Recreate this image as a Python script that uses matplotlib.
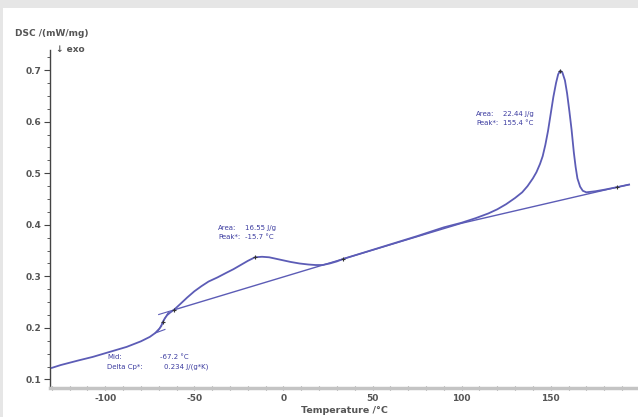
import matplotlib.pyplot as plt
from matplotlib.patches import Rectangle
from matplotlib.ticker import MultipleLocator

plt.rcParams['axes.unicode_minus'] = False

# DSC curve (temperature in degC, DSC in mW/mg)
temp = [-130, -125, -115, -107, -98, -88, -80, -75, -72, -69.5, -68.5, -67.7, -66.5, -65.2, -63.5, -61.5,
        -58, -54, -50, -46, -42, -37, -32, -28, -24, -20, -16, -12, -8, -4, 0, 4, 9,
        14, 18, 22, 26, 30, 33.7, 45, 60, 75, 90, 100, 108, 115, 120, 125, 130, 134, 137,
        140, 142, 144, 145.5, 147, 148.5, 150, 151.5, 153, 154.2, 155.4, 156.6, 158, 159.2,
        160.5, 161.7, 163, 164, 165, 166.5, 168, 170, 175, 180, 187.3, 194]
dsc = [0.1225, 0.128, 0.137, 0.1438, 0.153, 0.1632, 0.174, 0.1826, 0.190, 0.199, 0.204, 0.2116, 0.219, 0.225, 0.230, 0.2349,
       0.246, 0.259, 0.271, 0.281, 0.290, 0.298, 0.307, 0.314, 0.322, 0.330, 0.337, 0.338, 0.337, 0.334, 0.331, 0.328, 0.325,
       0.323, 0.322, 0.322, 0.325, 0.329, 0.334, 0.346, 0.362, 0.378, 0.395, 0.404, 0.413, 0.422, 0.430, 0.440, 0.452, 0.463, 0.475,
       0.490, 0.502, 0.518, 0.533, 0.555, 0.582, 0.615, 0.648, 0.675, 0.692, 0.699, 0.695, 0.680, 0.655,
       0.620, 0.585, 0.540, 0.512, 0.490, 0.474, 0.466, 0.463, 0.465, 0.468, 0.473, 0.478]

# baseline construction points
base_t = [-61.5, 33.7, 100, 187.3, 194]
base_y = [0.2349, 0.334, 0.403, 0.473, 0.478]

# glass transition tangents
gt_t = [-70.5, -64.5]
gt_y = [0.193, 0.231]
low_t = [-72, -66.5]
low_y = [0.190, 0.197]
up_t = [-70, -61.5]
up_y = [0.226, 0.2349]

# marker crosses
mark_t = [-67.7, -61.5, -15.7, 33.7, 155.4, 187.3]
mark_y = [0.2116, 0.2349, 0.338, 0.334, 0.699, 0.473]

line_c = '#5c5cb6'
text_c = '#3c3ca0'
tick_c = '#555555'

fig = plt.figure(figsize=(6.38, 4.17), dpi=100, facecolor='#e6e6e6')
fig.patches.append(Rectangle((3 / 638, 0), 1, (417 - 8) / 417, transform=fig.transFigure,
                             facecolor='white', edgecolor='none', zorder=-10))
ax = fig.add_axes([50 / 638, 29 / 417, 1 - 50 / 638, (388 - 50) / 417])
ax.set_facecolor('white')

ax.plot(temp, dsc, color=line_c, lw=1.3, zorder=3)
ax.plot(base_t, base_y, color=line_c, lw=1.0, zorder=2)
ax.plot(gt_t, gt_y, color=line_c, lw=0.8)
ax.plot(low_t, low_y, color=line_c, lw=0.8)
ax.plot(up_t, up_y, color=line_c, lw=0.8)
ax.plot(mark_t, mark_y, '+', color='#333333', ms=3.5, mew=0.8, zorder=4)

ax.set_xlim(-131, 199)
ax.set_ylim(0.0835, 0.739)

for s in ['top', 'right']:
    ax.spines[s].set_visible(False)
ax.spines['left'].set_color('#444444')
ax.spines['left'].set_linewidth(1.0)
ax.spines['bottom'].set_color('#c4c4c4')
ax.spines['bottom'].set_linewidth(2.5)

ax.xaxis.set_major_locator(MultipleLocator(50))
ax.xaxis.set_minor_locator(MultipleLocator(10))
ax.yaxis.set_major_locator(MultipleLocator(0.1))
ax.yaxis.set_minor_locator(MultipleLocator(0.025))
ax.tick_params(axis='x', which='both', direction='inout', length=3, width=0.8, color='#888888',
               labelsize=6.5, labelcolor=tick_c, pad=3)
ax.tick_params(axis='y', which='major', direction='out', length=4, width=0.8, color='#444444',
               labelsize=6.5, labelcolor=tick_c, pad=2)
ax.tick_params(axis='y', which='minor', direction='out', length=2, width=0.6, color='#444444')
for lab in ax.get_xticklabels() + ax.get_yticklabels():
    lab.set_fontweight('bold')

ax.set_xlabel('Temperature /°C', fontsize=6.8, color=tick_c, fontweight='bold', labelpad=2)

fig.text(15 / 638, 1 - 33 / 417, 'DSC /(mW/mg)', fontsize=6.5, color=tick_c, fontweight='bold',
         va='center', ha='left')
fig.text(56 / 638, 1 - 50 / 417, '↓ exo', fontsize=6.5, color=tick_c, fontweight='bold',
         va='center', ha='left')

fs = 5
def note(px, py, label, value):
    fig.text(px / 638, 1 - py / 417, label, fontsize=fs, color=text_c, va='center', ha='left')
    fig.text((px + 27) / 638, 1 - py / 417, value, fontsize=fs, color=text_c, va='center', ha='left')

note(218, 228, 'Area:', '16.55 J/g')
note(218, 237, 'Peak*:', '-15.7 °C')
note(476, 114, 'Area:', '22.44 J/g')
note(476, 123, 'Peak*:', '155.4 °C')
fig.text(107 / 638, 1 - 357 / 417, 'Mid:', fontsize=fs, color=text_c, va='center', ha='left')
fig.text(160 / 638, 1 - 357 / 417, '-67.2 °C', fontsize=fs, color=text_c, va='center', ha='left')
fig.text(107 / 638, 1 - 367 / 417, 'Delta Cp*:', fontsize=fs, color=text_c, va='center', ha='left')
fig.text(164 / 638, 1 - 367 / 417, '0.234 J/(g*K)', fontsize=fs, color=text_c, va='center', ha='left')

fig.savefig('out.png', dpi=100, facecolor=fig.get_facecolor())
